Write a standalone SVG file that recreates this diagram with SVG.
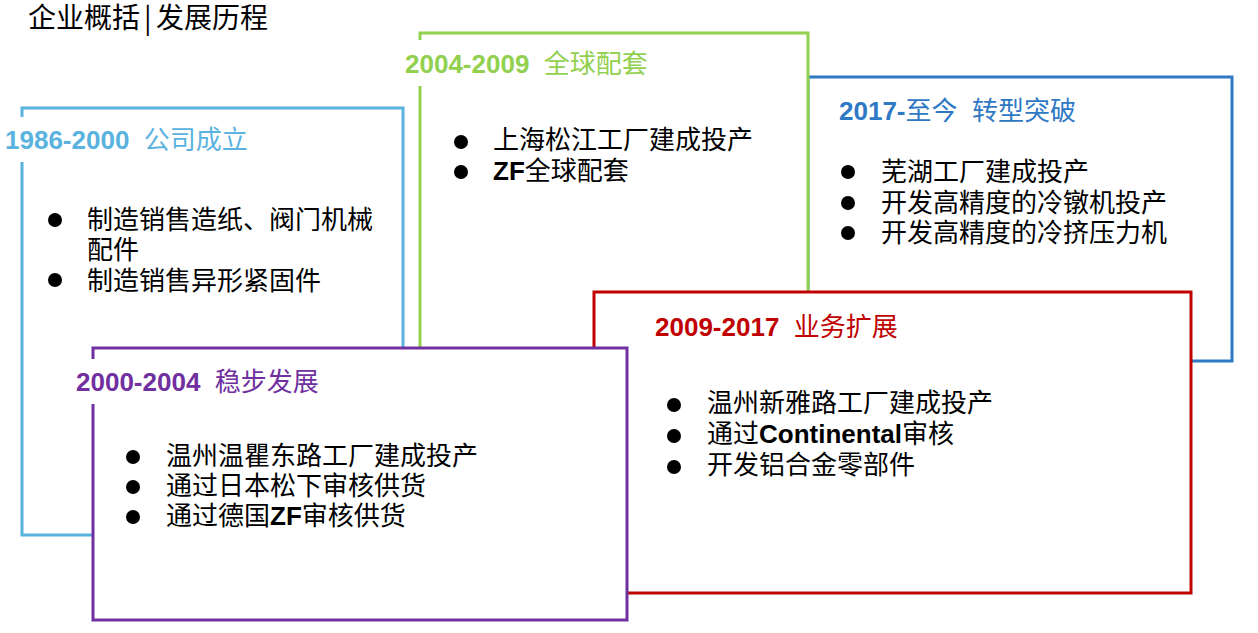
<svg xmlns="http://www.w3.org/2000/svg" width="1258" height="633" viewBox="0 0 1258 633">
<style>
.box{fill:#fff;stroke-width:3}
.mask{fill:#fff;stroke:none}
.ttl{font-family:"Liberation Sans","Noto Sans CJK SC",sans-serif;font-size:26px;font-weight:bold}
.cn{font-family:"Noto Sans CJK SC",sans-serif;font-weight:normal}
.body{font-family:"Noto Sans CJK SC",sans-serif;font-size:26px;fill:#000}
.en{font-family:"Liberation Sans",sans-serif;font-weight:bold}
.dot{fill:#000}
</style>
<rect width="1258" height="633" fill="#fff"/>
<g id="header">
<text x="28" y="28" style="font-family:'Noto Sans CJK SC',sans-serif;font-size:28px;fill:#000"><tspan>企业概括</tspan><tspan x="144">|</tspan><tspan x="156">发展历程</tspan></text>
</g>
<g id="node-1986-2000">
<rect class="box" x="22" y="108" width="381" height="427" stroke="#5AB2DE"/>
<rect class="mask" x="3" y="117" width="250" height="45"/>
<text class="ttl" x="5" y="149" fill="#5AB2DE" xml:space="preserve">1986-2000  <tspan class="cn">公司成立</tspan></text>
<circle class="dot" cx="55" cy="220" r="7"/>
<circle class="dot" cx="55" cy="280" r="7"/>
<text class="body" x="87" y="229">制造销售造纸、阀门机械</text>
<text class="body" x="87" y="259">配件</text>
<text class="body" x="87" y="290">制造销售异形紧固件</text>
</g>
<g id="node-2017">
<rect class="box" x="808" y="77" width="424" height="284" stroke="#2F78C4"/>
<text class="ttl" x="839" y="120" fill="#2F78C4" xml:space="preserve">2017-<tspan class="cn">至今</tspan>  <tspan class="cn">转型突破</tspan></text>
<circle class="dot" cx="848" cy="172" r="7"/>
<circle class="dot" cx="848" cy="203" r="7"/>
<circle class="dot" cx="848" cy="233" r="7"/>
<text class="body" x="881" y="181">芜湖工厂建成投产</text>
<text class="body" x="881" y="212">开发高精度的冷镦机投产</text>
<text class="body" x="881" y="242">开发高精度的冷挤压力机</text>
</g>
<g id="node-2004-2009">
<rect class="box" x="420" y="33" width="388" height="467" stroke="#92D050"/>
<rect class="mask" x="403" y="40" width="250" height="46"/>
<text class="ttl" x="405" y="73" fill="#92D050" xml:space="preserve">2004-2009  <tspan class="cn">全球配套</tspan></text>
<circle class="dot" cx="461" cy="142" r="7"/>
<circle class="dot" cx="461" cy="172" r="7"/>
<text class="body" x="493" y="149">上海松江工厂建成投产</text>
<text class="body" x="493" y="180"><tspan class="en">ZF</tspan>全球配套</text>
</g>
<g id="node-2009-2017">
<rect class="box" x="594" y="292" width="597" height="301" stroke="#C00000"/>
<text class="ttl" x="655" y="336" fill="#C00000" xml:space="preserve">2009-2017  <tspan class="cn">业务扩展</tspan></text>
<circle class="dot" cx="674" cy="405" r="7"/>
<circle class="dot" cx="674" cy="436" r="7"/>
<circle class="dot" cx="674" cy="467" r="7"/>
<text class="body" x="707" y="412">温州新雅路工厂建成投产</text>
<text class="body" x="707" y="443">通过<tspan class="en">Continental</tspan>审核</text>
<text class="body" x="707" y="474">开发铝合金零部件</text>
</g>
<g id="node-2000-2004">
<rect class="box" x="93" y="348" width="534" height="272" stroke="#7030A0"/>
<rect class="mask" x="74" y="359" width="250" height="45"/>
<text class="ttl" x="76" y="391" fill="#7030A0" xml:space="preserve">2000-2004  <tspan class="cn">稳步发展</tspan></text>
<circle class="dot" cx="133" cy="457" r="7"/>
<circle class="dot" cx="133" cy="487" r="7"/>
<circle class="dot" cx="133" cy="517" r="7"/>
<text class="body" x="166" y="465">温州温瞿东路工厂建成投产</text>
<text class="body" x="166" y="495">通过日本松下审核供货</text>
<text class="body" x="166" y="525">通过德国<tspan class="en">ZF</tspan>审核供货</text>
</g>
</svg>
